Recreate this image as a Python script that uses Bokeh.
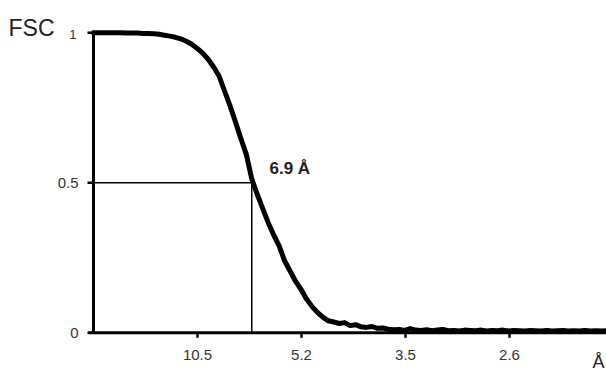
from bokeh.plotting import figure
from bokeh.models import Range1d
from bokeh.core.properties import value
from bokeh.embed import file_html
from bokeh.resources import INLINE

# spatial frequency (1/Å) and FSC values
freq = [0.000, 0.005, 0.010, 0.015, 0.020, 0.025, 0.030, 0.035, 0.040, 0.045,
        0.050, 0.055, 0.060, 0.065, 0.070, 0.075, 0.080, 0.085, 0.090, 0.095,
        0.100, 0.105, 0.110, 0.115, 0.120, 0.125, 0.130, 0.135, 0.140, 0.145,
        0.150, 0.155, 0.160, 0.165, 0.170, 0.175, 0.180, 0.185, 0.190, 0.195,
        0.200, 0.205, 0.210, 0.215, 0.220, 0.225, 0.230, 0.235, 0.240, 0.245,
        0.250, 0.255, 0.260, 0.265, 0.270, 0.275, 0.280, 0.285, 0.290, 0.295,
        0.300, 0.305, 0.310, 0.315, 0.320, 0.325, 0.330, 0.335, 0.340, 0.345,
        0.350, 0.355, 0.360, 0.365, 0.370, 0.375, 0.380, 0.385, 0.390, 0.395,
        0.400, 0.405, 0.410, 0.415, 0.420, 0.425, 0.430, 0.435, 0.440, 0.445,
        0.450, 0.455, 0.460, 0.465, 0.470]
fsc = [1.000, 1.000, 1.000, 1.000, 1.000, 1.000, 0.999, 0.999, 0.999, 0.998,
       0.998, 0.997, 0.995, 0.992, 0.989, 0.985, 0.980, 0.972, 0.962, 0.948,
       0.932, 0.912, 0.886, 0.856, 0.806, 0.757, 0.703, 0.647, 0.594, 0.512,
       0.461, 0.414, 0.367, 0.326, 0.290, 0.240, 0.206, 0.172, 0.145, 0.113,
       0.088, 0.068, 0.052, 0.040, 0.036, 0.031, 0.034, 0.024, 0.027, 0.020,
       0.018, 0.021, 0.015, 0.016, 0.012, 0.010, 0.011, 0.008, 0.014, 0.009,
       0.008, 0.010, 0.007, 0.009, 0.011, 0.007, 0.008, 0.006, 0.009, 0.008,
       0.007, 0.009, 0.006, 0.008, 0.007, 0.009, 0.006, 0.008, 0.007, 0.006,
       0.008, 0.007, 0.006, 0.008, 0.006, 0.007, 0.008, 0.006, 0.007, 0.006,
       0.008, 0.006, 0.007, 0.006, 0.007]

# axis ticks
x_tick_res = [10.5, 5.25, 3.5, 2.625]
x_tick_labels = ["10.5", "5.2", "3.5", "2.6"]
y_ticks = [0, 0.5]
y_tick_labels = ["0", "0.5"]
y_top_tick = 1
y_top_label = "1"

# resolution at FSC = 0.5
res_half = 6.9
fsc_half = 0.5
half_label = "6.9 Å"

KX = 1092.0   # px per 1/Å
KY = 300.0    # px per FSC unit
X0 = 93.0     # px of freq 0
Y0 = 332.3    # px of fsc 0
W, H = 606, 374
FONT = "Liberation Sans"


def fx(px):
    return (px - X0) / KX


def fy(py):
    return (Y0 - py) / KY


p = figure(width=W, height=H,
           x_range=Range1d(fx(0), fx(W)),
           y_range=Range1d(fy(H), fy(0)),
           output_backend="svg", toolbar_location=None,
           min_border=0)
p.xaxis.visible = False
p.yaxis.visible = False
p.grid.visible = False
p.outline_line_color = None
p.background_fill_color = "white"
p.border_fill_color = "white"

x_ticks = [1.0 / r for r in x_tick_res]
x_end = fx(W)
all_y_ticks = y_ticks + [y_top_tick]

# axis lines
p.segment(x0=[0, fx(X0 - 5)], y0=[0, 0], x1=[0, x_end], y1=[1 + 2 / KY, 0],
          line_color="black", line_width=3)
# tick marks
p.segment(x0=[-6 / KX] * len(all_y_ticks), y0=all_y_ticks,
          x1=[0] * len(all_y_ticks), y1=all_y_ticks,
          line_color="black", line_width=2.5)
p.segment(x0=x_ticks, y0=[0] * len(x_ticks), x1=x_ticks, y1=[-5 / KY] * len(x_ticks),
          line_color="black", line_width=2.5)

# tick labels
p.text(x=x_ticks, y=[fy(354)] * len(x_ticks), text=x_tick_labels,
       text_font=value(FONT), text_font_size="15px", text_color="#333333",
       text_align="center", text_baseline="middle")
p.text(x=[fx(78)] * len(y_ticks), y=y_ticks, text=y_tick_labels,
       text_font=value(FONT), text_font_size="15px", text_color="#333333",
       text_align="right", text_baseline="middle")
p.text(x=[fx(76)], y=[y_top_tick - 1.5 / KY], text=[y_top_label],
       text_font=value(FONT), text_font_size="13px", text_color="#333333",
       text_align="right", text_baseline="middle")

# 0.5 guide lines
fh = 1.0 / res_half
p.segment(x0=[0, fh], y0=[fsc_half, 0], x1=[fh, fh], y1=[fsc_half, fsc_half],
          line_color="black", line_width=1.5)

# curve
p.line(freq, fsc, line_color="black", line_width=5, line_join="round", line_cap="round")

# texts
p.text(x=[fx(8)], y=[fy(27)], text=["FSC"], text_font=value(FONT),
       text_font_size="23px", text_color="#222222",
       text_align="left", text_baseline="middle")
p.text(x=[fx(269)], y=[fy(168)], text=[half_label], text_font=value(FONT),
       text_font_size="17px", text_font_style="bold", text_color="#222222",
       text_align="left", text_baseline="middle")
p.text(x=[fx(604)], y=[fy(351)], text=["Å"], text_font=value(FONT),
       text_font_size="18px", text_color="#222222",
       text_align="right", text_baseline="top")

open("out.html", "w").write(file_html(p, INLINE))
